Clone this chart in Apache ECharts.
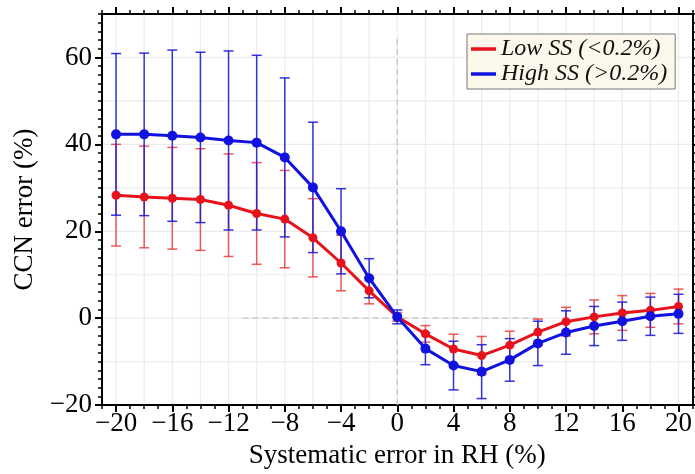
<!DOCTYPE html>
<html>
<head>
<meta charset="utf-8">
<script src="https://cdn.jsdelivr.net/npm/echarts@6/dist/echarts.min.js"></script>
<style>
html,body{margin:0;padding:0;background:#fff;}
#chart{width:695px;height:474px;}
</style>
</head>
<body>
<div id="chart"></div>
<script>
// ---- data ----
const xValues = [-20,-18,-16,-14,-12,-10,-8,-6,-4,-2,0,2,4,6,8,10,12,14,16,18,20];
const lowSSMean = [28.3,27.9,27.6,27.3,26.0,24.1,22.8,18.5,12.7,6.3,0.3,-3.6,-7.1,-8.6,-6.2,-3.2,-0.8,0.3,1.2,1.8,2.7];
const lowSSErr  = [11.7,11.7,11.7,11.7,11.8,11.7,11.2,9.0,6.4,3.0,1.0,1.9,3.4,4.4,3.2,3.0,3.3,3.9,4.0,3.9,4.0];
const highSSMean = [42.3,42.3,42.0,41.6,40.9,40.4,37.0,30.1,20.0,9.2,0.3,-7.0,-10.9,-12.3,-9.6,-5.8,-3.3,-1.8,-0.7,0.45,1.0];
const highSSErr  = [18.6,18.7,19.7,19.6,20.6,20.1,18.3,15.0,9.8,4.5,1.6,3.7,5.6,6.2,4.9,5.1,5.0,4.5,4.4,4.4,4.5];
const xTickLabels = [-20,-16,-12,-8,-4,0,4,8,12,16,20];
const yTickLabels = [-20,0,20,40,60];
const xGridValues = [-20,-18,-16,-14,-12,-10,-8,-6,-4,-2,0,2,4,6,8,10,12,14,16,18,20];
const yGridValues = [-10,0,10,20,30,40,50,60];
const seriesNames = ['Low SS (<0.2%)', 'High SS (>0.2%)'];
const xTitle = 'Systematic error in RH (%)';
const yTitle = 'CCN error (%)';
// reference dashed lines: [x1,y1,x2,y2] in data units
const refLines = [[0,-20,0,65],[-11,0,10,0]];

const X_MIN = -21, X_MAX = 21, Y_MIN = -20, Y_MAX = 70;
const FONT = '"Liberation Serif", "Times New Roman", Times, serif';
const RED = '#e8121c', BLUE = '#1212e0';
const minus = v => String(v).replace('-', '\u2212');

function errData(mean, err) {
  return xValues.map((x, i) => [x, mean[i] - err[i], mean[i] + err[i]]);
}
function errRender(color) {
  return function (params, api) {
    const x = api.value(0);
    const lo = api.coord([x, api.value(1)]);
    const hi = api.coord([x, api.value(2)]);
    const hw = 5;
    const st = { stroke: color, lineWidth: 1.5 };
    return { type: 'group', children: [
      { type: 'line', shape: { x1: hi[0], y1: hi[1], x2: lo[0], y2: lo[1] }, style: st },
      { type: 'line', shape: { x1: hi[0]-hw, y1: hi[1], x2: hi[0]+hw, y2: hi[1] }, style: st },
      { type: 'line', shape: { x1: lo[0]-hw, y1: lo[1], x2: lo[0]+hw, y2: lo[1] }, style: st }
    ]};
  };
}

const gridData = xGridValues.map(v => [v, 0]).concat(yGridValues.map(v => [v, 1]));

function majorX(pos, labels) {
  return { type:'value', position:pos, min:X_MIN, max:X_MAX,
    axisLine:{ show:true, onZero:false, lineStyle:{ color:'#000', width:2 } },
    axisTick:{ show:true, customValues:xTickLabels, length:7, lineStyle:{ color:'#000', width:2 } },
    axisLabel:{ show:labels, customValues:xTickLabels, formatter:minus, fontFamily:FONT, fontSize:27, color:'#000', margin:5 },
    splitLine:{ show:false } };
}
function minorX(pos) {
  return { type:'value', position:pos, min:X_MIN, max:X_MAX, interval:1,
    axisLine:{ show:false, onZero:false },
    axisTick:{ show:true, length:4, lineStyle:{ color:'#000', width:1.5 } },
    axisLabel:{ show:false }, splitLine:{ show:false } };
}
function majorY(pos, labels) {
  return { type:'value', position:pos, min:Y_MIN, max:Y_MAX,
    axisLine:{ show:true, onZero:false, lineStyle:{ color:'#000', width:2 } },
    axisTick:{ show:true, customValues:yTickLabels, length:7, lineStyle:{ color:'#000', width:2 } },
    axisLabel:{ show:labels, customValues:yTickLabels, formatter:minus, fontFamily:FONT, fontSize:27, color:'#000', margin:10 },
    splitLine:{ show:false } };
}
function minorY(pos) {
  return { type:'value', position:pos, min:Y_MIN, max:Y_MAX, interval:2,
    axisLine:{ show:false, onZero:false },
    axisTick:{ show:true, length:4, lineStyle:{ color:'#000', width:1.5 } },
    axisLabel:{ show:false }, splitLine:{ show:false } };
}

const xMain = majorX('bottom', true);
xMain.name = xTitle; xMain.nameLocation = 'middle'; xMain.nameGap = 33;
xMain.nameTextStyle = { fontFamily:FONT, fontSize:27, color:'#000' };
const yMain = majorY('left', true);
yMain.name = yTitle; yMain.nameLocation = 'middle'; yMain.nameGap = 63;
yMain.nameTextStyle = { fontFamily:FONT, fontSize:27, color:'#000' };

const chart = echarts.init(document.getElementById('chart'), null, { renderer:'canvas' });
chart.setOption({
  animation:false,
  backgroundColor:'#fff',
  grid:{ left:102, right:2, top:14, bottom:66, containLabel:false },
  xAxis:[ xMain, minorX('bottom'), majorX('top', false), minorX('top') ],
  yAxis:[ yMain, minorY('left'), majorY('right', false), minorY('right') ],
  legend:{
    left:467, top:34, orient:'vertical',
    data:[ { name:seriesNames[0], icon:'rect' }, { name:seriesNames[1], icon:'rect' } ],
    itemWidth:25, itemHeight:3.5, itemGap:1,
    padding:[3,8,3,4],
    backgroundColor:'#fcf8ec', borderColor:'#777', borderWidth:1,
    textStyle:{ fontFamily:FONT, fontStyle:'italic', fontSize:24, color:'#111', lineHeight:24 }
  },
  series:[
    { type:'custom', name:'grid', silent:true, z:0, data:gridData,
      renderItem:function(params, api){
        const cs = params.coordSys;
        const v = api.value(0), kind = api.value(1);
        let shape;
        if (kind === 0) { const p = api.coord([v, Y_MIN]); shape = { x1:p[0], y1:cs.y, x2:p[0], y2:cs.y+cs.height }; }
        else { const p = api.coord([X_MIN, v]); shape = { x1:cs.x, y1:p[1], x2:cs.x+cs.width, y2:p[1] }; }
        return { type:'line', shape:shape, style:{ stroke:'#ececec', lineWidth:1.2 } };
      } },
    { type:'custom', name:'ref', silent:true, z:1, data:refLines,
      renderItem:function(params, api){
        const a = api.coord([api.value(0), api.value(1)]);
        const b = api.coord([api.value(2), api.value(3)]);
        return { type:'line', shape:{ x1:a[0], y1:a[1], x2:b[0], y2:b[1] }, style:{ stroke:'#c4c4c4', lineWidth:1.3, lineDash:[6,4] } };
      } },
    { type:'custom', name:'lowErr', silent:true, z:2, data:errData(lowSSMean, lowSSErr), renderItem:errRender('rgba(232,50,50,0.8)') },
    { type:'custom', name:'highErr', silent:true, z:2, data:errData(highSSMean, highSSErr), renderItem:errRender('rgba(30,30,215,0.9)') },
    { type:'line', name:seriesNames[0], z:3, data:xValues.map((x,i)=>[x, lowSSMean[i]]),
      symbol:'circle', symbolSize:9, color:RED, lineStyle:{ color:RED, width:3 }, itemStyle:{ color:RED } },
    { type:'line', name:seriesNames[1], z:4, data:xValues.map((x,i)=>[x, highSSMean[i]]),
      symbol:'circle', symbolSize:10, color:BLUE, lineStyle:{ color:BLUE, width:3 }, itemStyle:{ color:BLUE } }
  ]
});
</script>
</body>
</html>
